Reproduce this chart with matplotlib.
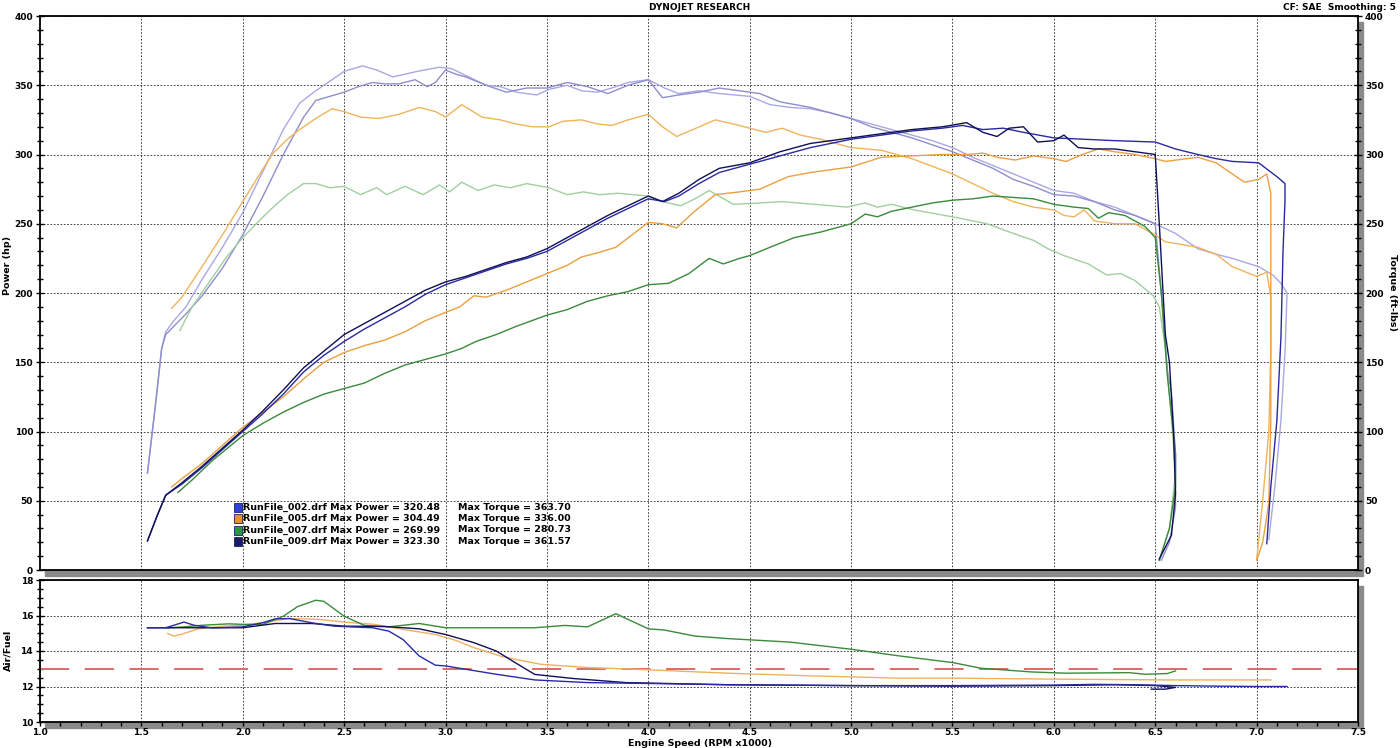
import numpy as np
import matplotlib.pyplot as plt
from matplotlib.patches import Rectangle
from matplotlib.ticker import MultipleLocator, FormatStrFormatter

plt.rcParams['font.family'] = 'DejaVu Sans'
plt.rcParams['font.weight'] = 'bold'

# ---- power (hp) ----
p002_rpm = [1.53,1.58,1.62,1.70,1.80,1.90,2.00,2.10,2.20,2.30,2.40,2.50,2.60,2.70,2.80,2.90,3.00,3.10,3.20,3.30,
            3.40,3.50,3.60,3.70,3.80,3.90,4.00,4.08,4.15,4.25,4.35,4.50,4.65,4.80,5.00,5.15,5.30,5.45,5.55,5.65,
            5.75,5.85,6.00,6.15,6.30,6.50,6.60,6.71,6.80,6.88,7.01,7.10,7.14,7.14,7.13,7.12,7.10,7.07,7.05]
p002 = [21,40,54,62,74,87,100,113,127,143,155,165,174,182,190,199,206,211,216,221,
        225,230,238,246,254,261,268,266,270,279,287,293,299,305,311,314,317,319,321,318,
        319,316,312,311,310,309,304,300,297,295,294,284,279,267,229,168,108,60,19]

p005_rpm = [1.65,1.70,1.80,1.90,2.00,2.10,2.20,2.30,2.40,2.50,2.60,2.70,2.80,2.90,3.00,3.07,3.14,3.20,3.30,3.40,
            3.50,3.60,3.67,3.75,3.84,3.92,4.00,4.07,4.14,4.22,4.33,4.45,4.55,4.69,4.80,4.90,5.00,5.15,5.30,5.45,
            5.57,5.65,5.72,5.81,5.90,6.00,6.06,6.14,6.22,6.30,6.40,6.50,6.55,6.71,6.80,6.94,7.01,7.05,7.07,7.07,
            7.07,7.07,7.06,7.03,7.00]
p005 = [60,66,77,90,103,114,125,138,150,157,162,166,172,180,186,190,198,197,202,208,
        214,220,226,229,233,242,251,250,247,258,271,273,275,284,287,289,291,298,299,300,
        300,301,298,296,299,297,295,300,304,302,300,297,295,298,294,280,282,286,272,252,
        180,108,48,20,7]

p007_rpm = [1.68,1.75,1.85,2.00,2.10,2.20,2.30,2.40,2.50,2.60,2.70,2.80,2.90,3.00,3.08,3.15,3.25,3.35,3.50,3.60,
            3.70,3.80,3.90,4.00,4.10,4.20,4.30,4.37,4.45,4.50,4.60,4.72,4.85,5.00,5.07,5.13,5.20,5.30,5.40,5.50,
            5.60,5.70,5.80,5.90,6.00,6.10,6.17,6.22,6.27,6.35,6.45,6.50,6.53,6.56,6.60,6.60,6.57,6.52]
p007 = [56,65,79,97,106,114,121,127,131,135,142,148,152,156,160,165,170,176,184,188,
        194,198,201,206,207,214,225,221,225,227,233,240,244,250,257,255,259,262,265,267,
        268,270,269,268,264,262,261,254,258,256,248,240,200,140,84,60,30,7]

p009_rpm = [1.53,1.58,1.62,1.70,1.80,1.90,2.00,2.10,2.20,2.30,2.40,2.50,2.60,2.70,2.80,2.90,3.00,3.10,3.20,3.30,
            3.40,3.50,3.60,3.70,3.80,3.90,4.00,4.07,4.15,4.25,4.35,4.50,4.65,4.80,5.00,5.15,5.30,5.45,5.57,5.65,
            5.72,5.78,5.85,5.92,6.00,6.05,6.12,6.20,6.30,6.40,6.50,6.52,6.55,6.57,6.59,6.60,6.58,6.52]
p009 = [21,40,54,63,75,88,101,115,130,146,158,170,178,186,194,202,208,212,217,222,
        226,232,240,248,256,263,270,266,272,282,290,294,302,308,312,315,318,320,323,316,
        313,319,320,309,310,314,305,304,304,302,300,250,170,150,100,55,25,8]

# ---- torque (ft-lbs) ----
t002_rpm = [1.53,1.57,1.60,1.62,1.66,1.72,1.80,1.90,2.00,2.10,2.20,2.28,2.35,2.41,2.50,2.59,2.66,2.74,2.80,2.86,
            2.97,3.03,3.10,3.20,3.27,3.35,3.45,3.51,3.60,3.67,3.75,3.82,3.90,4.00,4.08,4.15,4.25,4.35,4.50,4.60,
            4.70,4.80,4.90,5.00,5.10,5.20,5.30,5.40,5.50,5.60,5.70,5.80,5.90,6.00,6.10,6.20,6.30,6.40,6.50,6.60,
            6.71,6.80,6.88,7.01,7.08,7.12,7.15,7.14,7.12,7.09,7.06]
t002 = [70,120,160,172,180,190,210,233,258,288,318,337,345,351,360,364,361,356,358,360,
        363,362,357,350,349,345,343,347,350,346,345,348,352,354,348,344,346,344,342,336,
        334,333,330,326,322,318,314,310,305,298,292,286,280,274,272,266,262,256,250,243,
        232,228,225,219,213,207,200,157,108,60,22]

t005_rpm = [1.65,1.70,1.79,1.90,2.00,2.08,2.15,2.22,2.28,2.36,2.44,2.50,2.58,2.67,2.77,2.87,2.95,3.00,3.08,3.18,
            3.27,3.35,3.43,3.51,3.58,3.67,3.75,3.82,3.90,4.00,4.07,4.14,4.22,4.33,4.42,4.50,4.58,4.66,4.75,4.85,
            5.00,5.15,5.30,5.50,5.60,5.70,5.80,5.90,6.00,6.05,6.10,6.15,6.20,6.30,6.40,6.50,6.55,6.71,6.80,6.88,
            7.00,7.05,7.07,7.07,7.06,7.03,7.00]
t005 = [189,197,217,242,266,285,301,311,318,326,333,331,327,326,329,334,331,327,336,327,
        325,322,320,320,324,325,322,321,325,329,320,313,318,325,322,319,316,319,314,311,
        305,303,297,286,279,272,266,262,260,256,255,260,252,250,250,242,237,233,228,219,
        212,215,197,160,100,50,7]

t007_rpm = [1.69,1.75,1.84,1.92,2.00,2.08,2.15,2.22,2.30,2.36,2.43,2.50,2.58,2.66,2.71,2.80,2.89,2.97,3.02,3.08,
            3.16,3.24,3.32,3.40,3.51,3.60,3.68,3.76,3.85,4.00,4.07,4.16,4.23,4.30,4.42,4.55,4.66,4.82,4.98,5.07,
            5.13,5.20,5.31,5.50,5.67,5.80,5.90,5.97,6.05,6.17,6.26,6.33,6.40,6.49,6.52,6.55,6.58,6.60,6.57,6.52]
t007 = [173,190,209,226,240,252,262,271,279,279,276,277,271,276,271,277,271,278,273,280,
        274,278,276,279,276,271,273,271,272,270,266,263,268,274,264,265,266,264,262,265,
        262,264,260,255,250,243,238,232,227,221,213,214,209,198,190,160,110,70,30,7]

t009_rpm = [1.53,1.57,1.60,1.62,1.66,1.72,1.80,1.90,2.00,2.10,2.20,2.30,2.36,2.43,2.50,2.57,2.64,2.70,2.77,2.85,
            2.91,2.95,3.00,3.05,3.10,3.20,3.30,3.40,3.50,3.60,3.70,3.80,3.90,4.00,4.07,4.15,4.25,4.35,4.45,4.55,
            4.65,4.80,4.90,5.00,5.10,5.20,5.30,5.40,5.50,5.60,5.70,5.80,5.90,6.00,6.10,6.20,6.30,6.40,6.50,6.53,
            6.56,6.58,6.60,6.60,6.57,6.53]
t009 = [70,120,160,170,176,185,198,218,242,270,300,327,339,342,345,349,352,351,351,354,
        349,352,361,358,356,350,345,348,348,352,349,344,350,354,341,343,345,348,346,344,
        338,334,330,326,320,316,312,307,302,296,290,282,277,271,270,266,260,256,250,200,
        144,128,84,45,20,7]

# ---- air/fuel ----
a002_rpm = [1.53,1.62,1.66,1.71,1.76,1.85,2.00,2.10,2.16,2.23,2.34,2.45,2.55,2.64,2.72,2.79,2.87,2.95,3.00,3.10,
            3.25,3.44,3.70,4.00,4.39,5.00,5.50,6.00,6.20,6.40,6.60,6.80,7.00,7.15]
a002 = [15.31,15.31,15.45,15.63,15.45,15.30,15.36,15.60,15.81,15.83,15.59,15.40,15.35,15.31,15.12,14.65,13.72,13.20,13.16,12.97,
        12.69,12.37,12.22,12.17,12.10,12.05,12.05,12.08,12.12,12.10,12.05,12.02,12.00,12.00]
a005_rpm = [1.63,1.66,1.70,1.78,1.90,2.00,2.10,2.23,2.38,2.50,2.65,2.80,2.95,3.05,3.14,3.28,3.47,3.70,4.00,4.39,
            4.80,5.24,5.50,6.06,6.56,7.07]
a005 = [14.99,14.84,14.95,15.25,15.40,15.45,15.60,15.83,15.78,15.63,15.50,15.20,14.93,14.60,14.19,13.68,13.25,13.07,12.94,12.75,
        12.60,12.47,12.47,12.41,12.37,12.37]
a007_rpm = [1.62,1.70,1.80,1.93,2.00,2.10,2.20,2.27,2.36,2.40,2.50,2.60,2.72,2.87,3.00,3.44,3.59,3.70,3.84,4.00,
            4.08,4.23,4.39,4.70,5.00,5.24,5.50,5.64,5.89,6.06,6.37,6.45,6.56,6.60]
a007 = [15.30,15.35,15.45,15.53,15.50,15.50,15.96,16.50,16.86,16.80,15.96,15.44,15.36,15.55,15.31,15.31,15.44,15.36,16.10,15.25,
        15.18,14.84,14.70,14.50,14.10,13.72,13.35,13.03,12.82,12.75,12.78,12.69,12.73,12.88]
a009_rpm = [1.53,1.70,2.00,2.16,2.34,2.50,2.70,2.87,3.00,3.14,3.25,3.35,3.44,3.63,3.89,4.39,5.00,5.50,6.00,6.30,
            6.50,6.60,6.55,6.48]
a009 = [15.31,15.31,15.31,15.55,15.55,15.40,15.38,15.25,14.93,14.47,14.00,13.30,12.68,12.45,12.22,12.10,12.05,12.02,12.05,12.10,
        12.05,11.95,11.85,11.85]
afr_target = 13.0

run_names = ['RunFile_002.drf', 'RunFile_005.drf', 'RunFile_007.drf', 'RunFile_009.drf']
max_power = [320.48, 304.49, 269.99, 323.30]
max_torque = [363.70, 336.00, 280.73, 361.57]
swatch_colors = ['#3040d8', '#e8902c', '#2a9a36', '#1c1c6c']

W, H = 1400, 748
fig = plt.figure(figsize=(W / 100, H / 100), dpi=100)


def fx(px):
    return px / W


def fy(py):
    return 1 - py / H


def make_axes(top, bottom):
    rect = [fx(40), fy(bottom), fx(1358) - fx(40), (bottom - top) / H]
    # grey drop shadow behind the frame
    fig.patches.append(Rectangle((rect[0] + 5 / W, rect[1] - 6 / H), rect[2], rect[3],
                                 transform=fig.transFigure, color='#8a8a8a', zorder=-1))
    ax = fig.add_axes(rect)
    for s in ax.spines.values():
        s.set_linewidth(1.3)
    return ax


grid_style = dict(color='#222222', linestyle=(0, (2, 2)), linewidth=0.6)

# ---------------- top panel: power / torque ----------------
ax1 = make_axes(16, 570)
ax1.plot(t002_rpm, t002, color='#a8a8e4', lw=1)
ax1.plot(t009_rpm, t009, color='#8e8ecc', lw=1)
ax1.plot(t005_rpm, t005, color='#f0b45c', lw=1)
ax1.plot(t007_rpm, t007, color='#a0cfa0', lw=1)
ax1.plot(p005_rpm, p005, color='#eaa040', lw=1)
ax1.plot(p007_rpm, p007, color='#3a8a3a', lw=1)
ax1.plot(p002_rpm, p002, color='#2a2aa0', lw=1)
ax1.plot(p009_rpm, p009, color='#10105a', lw=1)

ax1.set_xlim(1.0, 7.5)
ax1.set_ylim(0, 400)
ax1.set_xticks(np.arange(1.5, 7.5, 0.5))
ax1.set_yticks(np.arange(0, 401, 50))
ax1.yaxis.set_minor_locator(MultipleLocator(10))
ax1.grid(which='major', **grid_style)
ax1.tick_params(axis='x', which='both', length=0, labelbottom=False)
ax1.tick_params(axis='y', which='both', left=True, right=True, labelleft=True, labelright=True,
                direction='inout', labelsize=6.5, pad=2)
ax1.tick_params(axis='y', which='major', length=6, width=1)
ax1.tick_params(axis='y', which='minor', length=5, width=1)

# legend block
for i in range(len(run_names)):
    y = 507 + i * 11.5
    fig.patches.append(Rectangle((fx(234), fy(y + 4.5)), 8 / W, 9 / H, transform=fig.transFigure,
                                 facecolor=swatch_colors[i], edgecolor='#202050', lw=0.6, zorder=5))
    fig.text(fx(243), fy(y), f'{run_names[i]} Max Power = {max_power[i]:.2f}',
             fontsize=6.8, va='center', ha='left', zorder=6)
    fig.text(fx(458), fy(y), f'Max Torque = {max_torque[i]:.2f}',
             fontsize=6.8, va='center', ha='left', zorder=6)

# ---------------- bottom panel: air/fuel ----------------
ax2 = make_axes(580, 722)
ax2.axhline(afr_target, color='#e06868', lw=1.4, linestyle=(0, (15, 8)))
ax2.plot(a005_rpm, a005, color='#f0b060', lw=1)
ax2.plot(a007_rpm, a007, color='#3a8a3a', lw=1)
ax2.plot(a009_rpm, a009, color='#10105a', lw=1)
ax2.plot(a002_rpm, a002, color='#2a2aa0', lw=1)

ax2.set_xlim(1.0, 7.5)
ax2.set_ylim(10, 18)
ax2.set_xticks(np.arange(1.0, 7.51, 0.5))
ax2.xaxis.set_minor_locator(MultipleLocator(0.1))
ax2.xaxis.set_major_formatter(FormatStrFormatter('%.1f'))
ax2.set_yticks(np.arange(10, 19, 2))
ax2.yaxis.set_minor_locator(MultipleLocator(0.5))
ax2.grid(which='major', **grid_style)
ax2.tick_params(axis='x', which='both', direction='out', length=3, width=1, labelsize=6.5, pad=1)
ax2.tick_params(axis='y', which='both', direction='inout', labelsize=6.5, pad=2)
ax2.tick_params(axis='y', which='major', length=6, width=1)
ax2.tick_params(axis='y', which='minor', length=5, width=1)

# ---------------- texts ----------------
fig.text(fx(700), fy(8), 'DYNOJET RESEARCH', ha='center', va='center', fontsize=6.5)
fig.text(fx(1396), fy(8), 'CF: SAE  Smoothing: 5', ha='right', va='center', fontsize=6.5)
fig.text(fx(8), fy(265), 'Power (hp)', rotation=90, ha='center', va='center', fontsize=6.8)
fig.text(fx(1393), fy(293), 'Torque (ft-lbs)', rotation=270, ha='center', va='center', fontsize=6.8)
fig.text(fx(8), fy(650), 'Air/Fuel', rotation=90, ha='center', va='center', fontsize=6.8)
fig.text(fx(700), fy(743), 'Engine Speed (RPM x1000)', ha='center', va='center', fontsize=6.8)

fig.savefig('out.png', dpi=100)
